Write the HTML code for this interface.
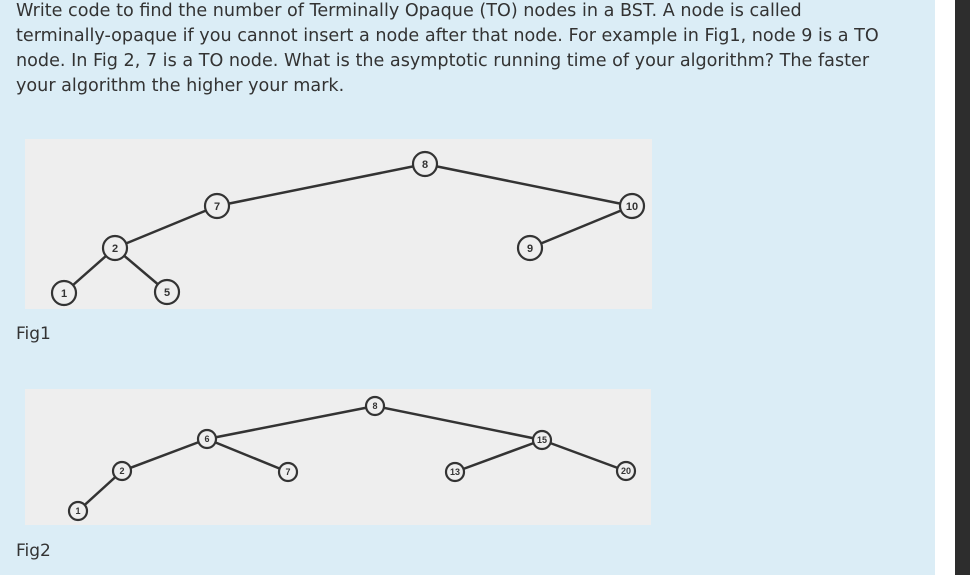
<!DOCTYPE html>
<html><head><style>
body{margin:0;width:970px;height:575px;overflow:hidden;background:#dbedf6;position:relative;font-family:"DejaVu Sans",Verdana,sans-serif;color:#333}
.r1{position:absolute;left:935px;top:0;width:20px;height:575px;background:#fff}
.r2{position:absolute;left:955px;top:0;width:15px;height:575px;background:#2d2d2d}
.t{position:absolute;left:16px;top:-1px;width:930px;font-size:17.6px;line-height:25px;white-space:nowrap}
.lbl{position:absolute;left:16px;font-size:17px}
svg{position:absolute;left:0;top:0}
</style></head><body>
<div class="r1"></div><div class="r2"></div>
<div class="t">Write code to find the number of Terminally Opaque (TO) nodes in a BST. A node is called<br>terminally-opaque if you cannot insert a node after that node. For example in Fig1, node 9 is a TO<br>node. In Fig 2, 7 is a TO node. What is the asymptotic running time of your algorithm? The faster<br>your algorithm the higher your mark.</div>
<div class="lbl" style="top:324px">Fig1</div>
<div class="lbl" style="top:541px">Fig2</div>
<svg width="970" height="575" font-family="Liberation Sans,sans-serif" font-size="11" font-weight="bold" text-anchor="middle" fill="#333">
<rect x="25" y="139" width="627" height="170" fill="#eeeeee"/>
<rect x="25" y="389" width="626" height="136" fill="#eeeeee"/>
<g stroke="#333" stroke-width="2.5">
<line x1="64" y1="293" x2="115" y2="248"/><line x1="115" y1="248" x2="167" y2="292"/>
<line x1="115" y1="248" x2="217" y2="206"/><line x1="217" y1="206" x2="425" y2="164"/>
<line x1="425" y1="164" x2="632" y2="206"/><line x1="632" y1="206" x2="530" y2="248"/>
<line x1="78" y1="511" x2="122" y2="471"/><line x1="122" y1="471" x2="207" y2="439"/>
<line x1="207" y1="439" x2="288" y2="472"/><line x1="207" y1="439" x2="375" y2="406"/>
<line x1="375" y1="406" x2="542" y2="440"/><line x1="542" y1="440" x2="455" y2="472"/>
<line x1="542" y1="440" x2="626" y2="471"/>
</g>
<g stroke="#333" stroke-width="2.2" fill="#eee">
<circle cx="64" cy="293" r="12"/><circle cx="115" cy="248" r="12"/><circle cx="167" cy="292" r="12"/>
<circle cx="217" cy="206" r="12"/><circle cx="425" cy="164" r="12"/><circle cx="530" cy="248" r="12"/>
<circle cx="632" cy="206" r="12"/>
<circle cx="78" cy="511" r="9"/><circle cx="122" cy="471" r="9"/><circle cx="207" cy="439" r="9"/>
<circle cx="288" cy="472" r="9"/><circle cx="375" cy="406" r="9"/><circle cx="455" cy="472" r="9"/>
<circle cx="542" cy="440" r="9"/><circle cx="626" cy="471" r="9"/>
</g>
<g>
<text x="64" y="297">1</text><text x="115" y="252">2</text><text x="167" y="296">5</text>
<text x="217" y="210">7</text><text x="425" y="168">8</text><text x="530" y="252">9</text><text x="632" y="210">10</text>
</g>
<g font-size="9">
<text x="78" y="514">1</text><text x="122" y="474">2</text><text x="207" y="442">6</text>
<text x="288" y="475">7</text><text x="375" y="409">8</text><text x="455" y="475">13</text>
<text x="542" y="443">15</text><text x="626" y="474">20</text>
</g>
</svg>
</body></html>
